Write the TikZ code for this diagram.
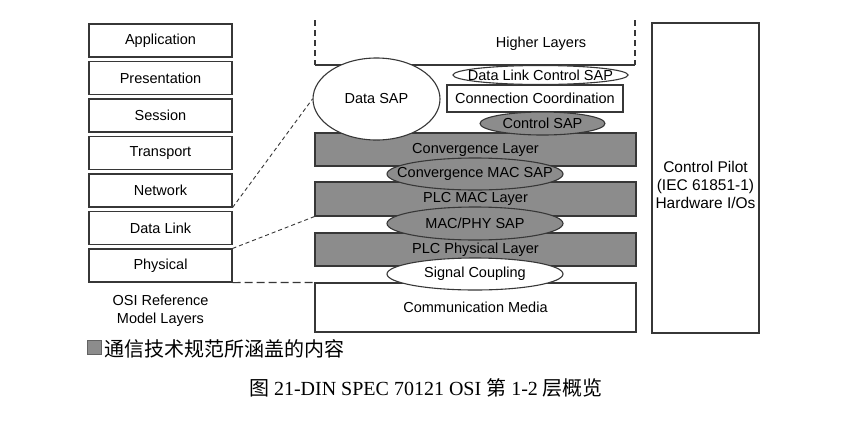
\documentclass[tikz,border=0pt]{standalone}
\usepackage{fontspec}
\setmainfont{Liberation Sans}
\newfontfamily\capserif{Liberation Serif}
\newfontfamily\cjk{Noto Sans CJK SC}
\usetikzlibrary{shapes.geometric}
\definecolor{lc}{RGB}{55,55,55}
\definecolor{gfill}{RGB}{140,140,140}
\tikzset{
  lbl/.style={font=\fontsize{14.5}{16}\selectfont, text=black},
  osibox/.style={lbl, draw=lc, line width=1.1pt, fill=white, minimum width=143pt, minimum height=33pt, inner sep=0pt},
  layerbox/.style={lbl, draw=lc, line width=1.1pt, fill=gfill, minimum width=321pt, minimum height=33pt, inner sep=0pt},
  plainbox/.style={lbl, draw=lc, line width=1.1pt, fill=white, inner sep=0pt},
  sapw/.style={ellipse, draw=lc, line width=1.1pt, fill=white, inner sep=0pt, label={[lbl, inner sep=0pt]center:#1}},
  sapg/.style={ellipse, draw=lc, line width=1.1pt, fill=gfill, inner sep=0pt, label={[lbl, inner sep=0pt]center:#1}},
  dline/.style={draw=lc, line width=0.9pt, dash pattern=on 4pt off 3pt},
  hline/.style={draw=lc, line width=1.1pt, dash pattern=on 8pt off 4pt},
  vline/.style={draw=lc, line width=1.1pt, dash pattern=on 6pt off 4pt},
}
\begin{document}
\begin{tikzpicture}[x=1pt,y=-1pt]
\useasboundingbox (0,0) rectangle (847,424);
\fill[white] (0,0) rectangle (847,424);

% OSI reference model
\node[osibox] (app)   at (160.5,40.5)  {Application};
\node[osibox] (pres)  at (160.5,78)    {Presentation};
\node[osibox] (sess)  at (160.5,115.5) {Session};
\node[osibox] (trans) at (160.5,153)   {Transport};
\node[osibox] (net)   at (160.5,190.5) {Network};
\node[osibox] (dl)    at (160.5,228)   {Data Link};
\node[osibox] (phys)  at (160.5,265.5) {Physical};
\node[lbl, align=center, font=\fontsize{14.5}{18}\selectfont] (osilbl) at (160.5,311) {OSI Reference\\Model Layers};

% Higher layers
\coordinate (hl1) at (315,20);
\coordinate (hl2) at (315,65);
\coordinate (hl3) at (635,65);
\coordinate (hl4) at (635,20);
\draw[vline] (hl1) -- (hl2);
\draw[vline] (hl4) -- (hl3);
\draw[draw=lc, line width=1.1pt] (hl2) -- (hl3);
\node[lbl] (hltext) at (541,44) {Higher Layers};

% Layers
\node[plainbox, minimum width=176pt, minimum height=27pt] (cc) at (535,98.5) {Connection Coordination};
\node[layerbox] (conv) at (475.5,149.5) {Convergence Layer};
\node[layerbox, minimum height=34pt] (plcmac) at (475.5,199) {PLC MAC Layer};
\node[layerbox] (plcphy) at (475.5,249.5) {PLC Physical Layer};
\node[plainbox, minimum width=321pt, minimum height=49pt] (media) at (475.5,307.5) {Communication Media};

% SAPs
\node[sapw={Data SAP}, minimum width=127pt, minimum height=82pt] (dsap) at (376.5,99) {};
\node[sapw={Data Link Control SAP}, minimum width=175pt, minimum height=19pt] (dlcsap) at (540.5,75) {};
\node[sapg={Control SAP}, minimum width=125pt, minimum height=23pt] (csap) at (542.5,123.5) {};
\node[sapg={Convergence MAC SAP}, minimum width=176pt, minimum height=32pt] (cmsap) at (475,174) {};
\node[sapg={MAC/PHY SAP}, minimum width=176pt, minimum height=33pt] (mpsap) at (475,223.5) {};
\node[sapw={Signal Coupling}, minimum width=176pt, minimum height=32pt] (sc) at (475,274) {};

% Control pilot
\node[plainbox, minimum width=107pt, minimum height=310pt] (cp) at (705.5,178) {};
\node[lbl, align=center, font=\fontsize{15.5}{18.3}\selectfont] (cptext) at (705.5,185) {Control Pilot\\(IEC 61851-1)\\Hardware I/Os};

% Dashed connectors
\draw[dline] (net.south east) -- (dsap.west);
\draw[dline] (phys.north east) -- (plcmac.south west);
\draw[hline] (phys.south east) -- (media.north west);

% Legend
\node[draw=gfill!70!black, fill=gfill, minimum width=14pt, minimum height=14pt, inner sep=0pt] (legsq) at (94,347) {};
\node[anchor=west, inner sep=0pt, font=\cjk\fontsize{20}{22}\selectfont] (legtext) at (104,349) {通信技术规范所涵盖的内容};

% Caption
\node[inner sep=0pt, font=\capserif\fontsize{20}{22}\selectfont] (caption) at (426,388) {{\cjk 图} 21-DIN SPEC 70121 OSI {\cjk 第} 1-2 {\cjk 层概览}};
\end{tikzpicture}
\end{document}
